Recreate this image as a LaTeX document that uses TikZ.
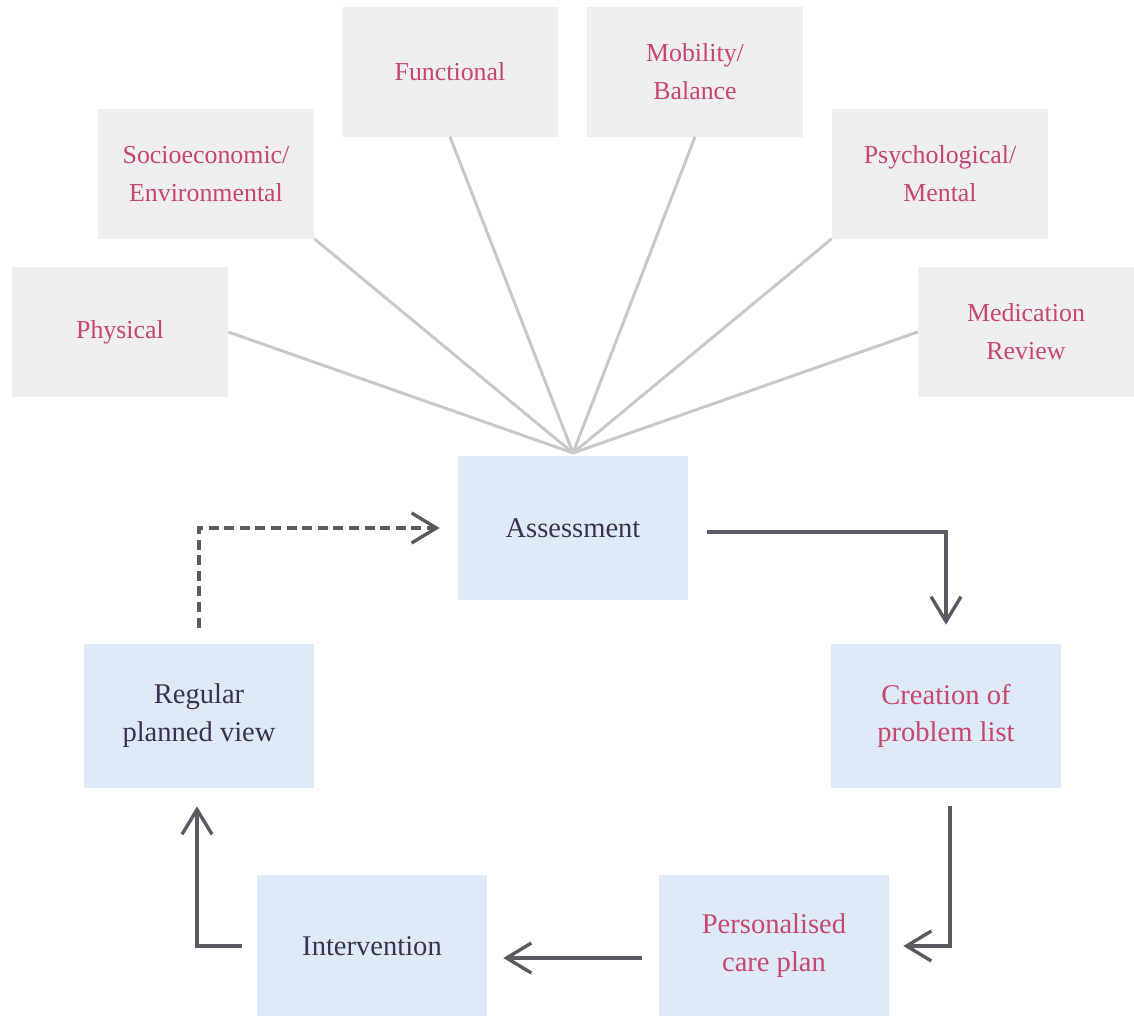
\documentclass[tikz,border=0pt]{standalone}
\usepackage{fontspec}
\setmainfont{Liberation Serif}
\usepackage{xcolor}
\usetikzlibrary{arrows.meta}
\definecolor{boxgrey}{HTML}{EFEFEF}
\definecolor{boxblue}{HTML}{DFEAF8}
\definecolor{txtpink}{HTML}{C8466E}
\definecolor{txtdark}{HTML}{3A3250}
\definecolor{spokegrey}{HTML}{C8C8C8}
\definecolor{arrgrey}{HTML}{5A5A62}
\tikzset{
  topic/.style={fill=boxgrey, minimum width=5.4cm, minimum height=3.225cm, inner sep=0pt,
    align=center, text=txtpink, font=\fontsize{18.4}{27}\selectfont},
  stage/.style={fill=boxblue, minimum width=5.75cm, minimum height=3.6cm, inner sep=0pt,
    align=center, text=txtdark, font=\fontsize{20.3}{27}\selectfont},
  spoke/.style={draw=spokegrey, line width=2.1pt},
  flow/.style={draw=arrgrey, line width=2.4pt,
    -{Straight Barb[length=0.62cm,width=0.75cm]}},
}
\begin{document}
\begin{tikzpicture}[x=0.025cm,y=-0.025cm]
\useasboundingbox (0,0) rectangle (1134,1016);

%topics
\node[topic] (phys) at (120,332) {Physical};
\node[topic] (socio) at (206,174) {Socioeconomic/\\Environmental};
\node[topic] (func) at (450,72) {Functional};
\node[topic] (mob) at (695,72) {Mobility/\\Balance};
\node[topic] (psych) at (940,174) {Psychological/\\Mental};
\node[topic] (med) at (1026,332) {Medication\\Review};

%cycle
\node[stage] (assess) at (573,528) {Assessment};
\node[stage] (create) at (946,716) {\color{txtpink}Creation of\\\color{txtpink}problem list};
\node[stage, minimum height=3.55cm] (plan) at (774,946) {\color{txtpink}Personalised\\\color{txtpink}care plan};
\node[stage, minimum height=3.55cm] (interv) at (372,946) {Intervention};
\node[stage] (review) at (199,716) {Regular\\planned view};

%spokes
\coordinate (hub) at (573,453);
\draw[spoke] (phys.east) -- (hub);
\draw[spoke] (socio.south east) -- (hub);
\draw[spoke] (func.south) -- (hub);
\draw[spoke] (mob.south) -- (hub);
\draw[spoke] (psych.south west) -- (hub);
\draw[spoke] (med.west) -- (hub);

%arrows
\draw[flow, shorten <=0.475cm, shorten >=0.475cm] ([yshift=-0.1cm]assess.east) -| (create.north);
\draw[flow, shorten <=0.45cm, shorten >=0.35cm] ([xshift=0.1cm]create.south) |- (plan.east);
\draw[flow, shorten <=0.425cm, shorten >=0.4cm] ([yshift=-0.3cm]plan.west) -- ([yshift=-0.3cm]interv.east);
\draw[flow, shorten <=0.375cm, shorten >=0.45cm] (interv.west) -| ([xshift=-0.05cm]review.south);
\draw[flow, dash pattern=on 0.25cm off 0.14cm, shorten <=0.4cm, shorten >=0.45cm] (review.north) |- (assess.west);
\end{tikzpicture}
\end{document}
